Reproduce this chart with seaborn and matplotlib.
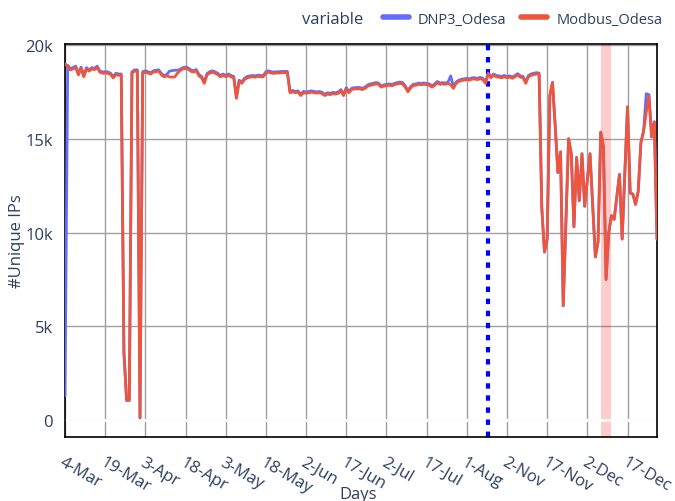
import pandas as pd
import matplotlib.pyplot as plt
import seaborn as sns
from matplotlib.lines import Line2D
from matplotlib.ticker import FuncFormatter

# --- data ---
# two observation windows, shown as categories (Aug..Oct gap is skipped)
days = [f"{d.day}-{d.strftime('%b')}" for d in
        list(pd.date_range('2023-03-04', '2023-08-08')) +
        list(pd.date_range('2023-10-26', '2023-12-28'))]

modbus_odesa = [
    19000, 18850, 18670, 18720, 18800, 18400, 18750, 18300, 18720, 18600,
    18720, 18680, 18800, 18540, 18490, 18500, 18490, 18420, 18240, 18420,
    18380, 18380, 3600, 1050, 1050, 18500, 18600, 18600, 120, 18500,
    18550, 18500, 18450, 18550, 18580, 18600, 18400, 18300, 18350, 18300,
    18280, 18300, 18500, 18630, 18720, 18750, 18700, 18600, 18550, 18620,
    18350, 18250, 17950, 18400, 18500, 18550, 18500, 18420, 18300, 18380,
    18300, 18380, 18300, 18250, 17150, 18050, 17950, 18150, 18250, 18280,
    18300, 18280, 18320, 18300, 18300, 18500, 18550, 18500, 18480, 18500,
    18500, 18520, 18520, 18520, 17450, 17500, 17450, 17480, 17300, 17450,
    17420, 17450, 17480, 17450, 17430, 17450, 17400, 17300, 17380, 17350,
    17400, 17380, 17420, 17550, 17300, 17650, 17450, 17620, 17650, 17660,
    17660, 17620, 17680, 17800, 17850, 17880, 17920, 17900, 17750, 17800,
    17820, 17850, 17820, 17880, 17920, 17950, 17920, 17750, 17500, 17700,
    17830, 17850, 17900, 17880, 17900, 17880, 17850, 17750, 17850, 17980,
    17900, 17920, 17900, 17950, 17880, 17680, 17950, 18050, 18100, 18120,
    18150, 18120, 18180, 18180, 18150, 18200, 18150, 17950, 18450, 18250,
    18380, 18300, 18280, 18250, 18300, 18250, 18280, 18220, 18300, 18400,
    18280, 18250, 17950, 18300, 18380, 18420, 18450, 18450, 11300, 8960,
    9650, 17300, 18000, 15700, 13200, 14300, 6100, 10500, 15000, 14200,
    10300, 14000, 11700, 14200, 11400, 12800, 14200, 11500, 8700, 9500,
    15350, 14600, 7500, 10000, 10900, 10700, 11900, 13100, 9650, 13200,
    16700, 12100, 12050, 11500, 12200, 14800, 15400, 16400, 17300, 15100,
    15900, 9650,
]

dnp3_odesa = [
    1300, 18920, 18740, 18790, 18870, 18470, 18820, 18370, 18790, 18670,
    18790, 18750, 18870, 18610, 18560, 18570, 18560, 18490, 18310, 18490,
    18450, 18450, 3600, 1050, 1050, 18570, 18670, 18670, 120, 18570,
    18620, 18570, 18520, 18620, 18650, 18670, 18470, 18370, 18420, 18600,
    18630, 18650, 18650, 18700, 18790, 18820, 18770, 18670, 18620, 18690,
    18420, 18320, 18020, 18470, 18570, 18620, 18570, 18490, 18370, 18450,
    18370, 18450, 18370, 18320, 17220, 18120, 18020, 18220, 18320, 18350,
    18370, 18350, 18390, 18370, 18370, 18570, 18620, 18570, 18550, 18570,
    18570, 18590, 18590, 18590, 17520, 17570, 17520, 17550, 17370, 17520,
    17490, 17520, 17550, 17520, 17500, 17520, 17470, 17370, 17450, 17420,
    17470, 17450, 17490, 17620, 17370, 17720, 17520, 17690, 17720, 17730,
    17730, 17690, 17750, 17870, 17920, 17950, 17990, 17970, 17820, 17870,
    17890, 17920, 17890, 17950, 17990, 18020, 17990, 17820, 17570, 17770,
    17900, 17920, 17970, 17950, 17970, 17950, 17920, 17820, 17920, 18050,
    17970, 17990, 17970, 18020, 18350, 17780, 18020, 18120, 18170, 18190,
    18220, 18190, 18250, 18250, 18220, 18270, 18220, 18020, 18500, 18320,
    18450, 18370, 18350, 18320, 18370, 18320, 18350, 18290, 18370, 18470,
    18350, 18320, 18020, 18370, 18450, 18490, 18520, 18500, 11300, 8960,
    9650, 17300, 18000, 15700, 13200, 14300, 6100, 10500, 15000, 14200,
    10300, 14000, 11700, 14200, 11400, 12800, 14200, 11500, 8700, 9500,
    15350, 14600, 7500, 10000, 10900, 10700, 11900, 13100, 9650, 13200,
    16700, 12100, 12050, 11500, 12200, 14800, 15400, 17400, 17350, 15100,
    15900, 9650,
]

series_names = ['DNP3_Odesa', 'Modbus_Odesa']
series_colors = ['#636EFA', '#EF553B']
gap_day = '26-Oct'            # dotted marker where the collection gap is
band_days = ('7-Dec', '11-Dec')  # shaded event window

# --- plot ---
sns.set_style('white')
plt.rcParams['font.family'] = ['Open Sans', 'DejaVu Sans']
text_color = '#2a3f5f'

df = pd.DataFrame({'pos': range(len(days)), 'day': days,
                   'DNP3_Odesa': dnp3_odesa, 'Modbus_Odesa': modbus_odesa})
long_df = df.melt(id_vars=['pos', 'day'], value_vars=series_names,
                  var_name='variable', value_name='value')

fig, ax = plt.subplots(figsize=(6.75, 5.02), dpi=100)
fig.subplots_adjust(left=0.0963, right=0.9733, top=0.9104, bottom=0.1275)

ax.axvspan(days.index(band_days[0]), days.index(band_days[1]),
           color='#ff0000', alpha=0.2, lw=0, zorder=1)
ax.axhline(0, color='white', lw=2, zorder=1)
ax.axvline(days.index(gap_day), color='#0000ff', lw=3,
           ls=(0, (1.3, 1.6)), zorder=2)

sns.lineplot(data=long_df, x='pos', y='value', hue='variable',
             hue_order=series_names, palette=series_colors, linewidth=2,
             sort=False, legend=False, ax=ax, zorder=3)

ax.set_xlim(0, len(days) - 1)
ax.set_ylim(-900, 20050)
ax.set_xticks(df['pos'][::15])
ax.set_xticklabels(df['day'][::15], rotation=-30, ha='left',
                   rotation_mode='anchor')
ax.set_yticks([0, 5000, 10000, 15000, 20000])
ax.yaxis.set_major_formatter(FuncFormatter(
    lambda v, _: '0' if v == 0 else f'{int(v / 1000)}k'))

ax.grid(True, color='#a0a0a0', lw=1)
ax.set_axisbelow(True)
for sp in ax.spines.values():
    sp.set_color('black')
    sp.set_linewidth(1.2)
ax.tick_params(direction='out', length=5, width=1, color='#444444',
               labelsize=12, labelcolor=text_color)
ax.tick_params(axis='x', pad=7)
ax.set_xlabel('Days', fontsize=12, color=text_color, va='center')
ax.xaxis.set_label_coords(0.495, -0.145)
ax.set_ylabel('#Unique IPs', fontsize=12, color=text_color, va='center')
ax.yaxis.set_label_coords(-0.081, 0.5)

handles = [Line2D([], [], color=c, lw=4) for c in series_colors]
fig.legend(handles, series_names, ncol=2, loc='center left',
           bbox_to_anchor=(0.548, 0.96), frameon=False, fontsize=10.5,
           handlelength=1.8, handletextpad=0.6, columnspacing=1.0,
           labelcolor=text_color)
fig.text(0.447, 0.96, 'variable', fontsize=12, color=text_color,
         va='center', ha='left')

fig.savefig('out.png', dpi=100)
